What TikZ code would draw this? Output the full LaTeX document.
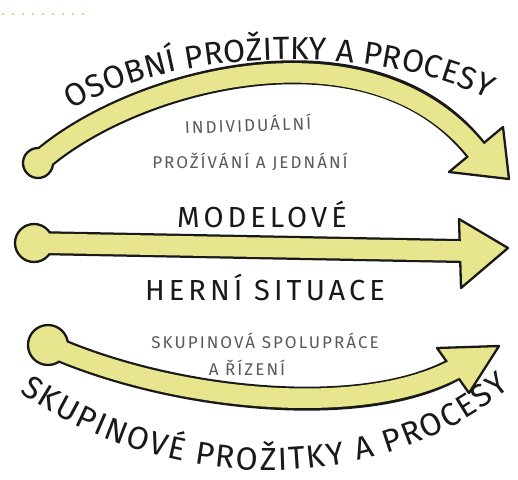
\documentclass[tikz,border=0pt]{standalone}
\usepackage{fontspec}
\usepackage{tikz}
\usetikzlibrary{decorations.text}
\setmainfont{Fira Sans}
\definecolor{pale-yellow}{RGB}{231,229,141}
\definecolor{ink}{RGB}{25,25,25}
\tikzset{
    band-outline/.style = {draw=ink, line width=24pt},
    band-fill/.style = {draw=pale-yellow, line width=19.5pt, shorten >=-4pt},
    band-end/.style = {fill=pale-yellow, draw=ink, line width=2.3pt, line join=round},
    big-label/.style = {font=\fontsize{29}{31}\selectfont\addfontfeature{LetterSpace=14}, text=ink},
    small-label/.style = {font=\fontsize{17}{19}\selectfont\addfontfeature{LetterSpace=12}, text=black!65},
    curved-label/.style = {decorate, decoration={text along path, text align=fit to path, text={#1}}},
}

\begin{document}
\begin{tikzpicture}[x=1pt, y=-1pt]
\useasboundingbox (0,0) rectangle (518,479);
\draw[pale-yellow!85!gray, line width=2.5pt, dash pattern=on 2pt off 8pt] (2,14) -- (92,14);

\coordinate (top-start) at (38,163);
\coordinate (top-end) at (476,150);
\draw[band-outline] (top-start) .. controls (130,80) and (370,15) .. (top-end);
\draw[band-end] (top-start) circle (15pt);
\draw[band-end] (503,127) -- (509,179) -- (449,172) -- cycle;
\draw[band-fill] (top-start) .. controls (130,80) and (370,15) .. (top-end);

\coordinate (mid-start) at (34,243);
\coordinate (mid-end) at (460,251);
\draw[band-outline] (mid-start) -- (mid-end);
\draw[band-end] (mid-start) circle (19pt);
\draw[band-end] (459,219) -- (508,248) -- (461,288) -- cycle;
\draw[band-fill] (mid-start) -- (mid-end);

\coordinate (bot-start) at (48,345);
\coordinate (bot-end) at (453,370);
\draw[band-outline] (bot-start) .. controls (170,400) and (360,420) .. (bot-end);
\draw[band-end] (bot-start) circle (20pt);
\draw[band-end] (437,348) -- (499,346) -- (469,393) -- cycle;
\draw[band-fill] (bot-start) .. controls (170,400) and (360,420) .. (bot-end);

\path[curved-label={|\color{ink}\fontsize{32}{34}\selectfont|OSOBNÍ PROŽITKY A PROCESY}] (72,110) .. controls (176,46) and (380,44) .. (488,99);
\path[curved-label={|\color{ink}\fontsize{32}{34}\selectfont|SKUPINOVÉ PROŽITKY A PROCESY}] (20,392) .. controls (170,497) and (378,497) .. (510,388);

\node[small-label, rotate=2] (individualni) at (248,124) {INDIVIDUÁLNÍ};
\node[small-label] (prozivani) at (250,162) {PROŽÍVÁNÍ A JEDNÁNÍ};
\node[big-label] (modelove) at (262,214) {MODELOVÉ};
\node[big-label] (herni) at (265,287) {HERNÍ SITUACE};
\node[small-label] (spoluprace) at (265,341) {SKUPINOVÁ SPOLUPRÁCE};
\node[small-label] (rizeni) at (247,368) {A ŘÍZENÍ};
\end{tikzpicture}
\end{document}
